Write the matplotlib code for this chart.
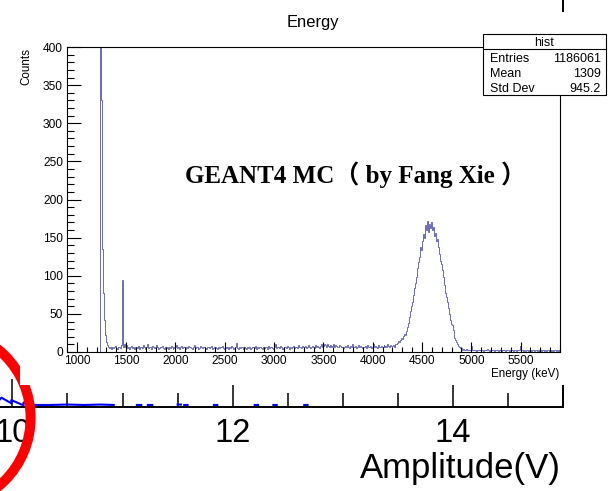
import numpy as np
import matplotlib.pyplot as plt
from matplotlib.patches import Rectangle, Ellipse
from matplotlib.lines import Line2D
from matplotlib.ticker import MultipleLocator

plt.rcParams['font.family'] = ['Liberation Sans', 'DejaVu Sans']

# energy histogram, 10 keV bins starting at 900 keV (one row = 200 keV)
e_start = 900
e_width = 10
counts = [
    0, 0, 0, 0, 0, 0, 0, 0, 0, 0, 0, 0, 0, 0, 0, 0, 0, 0, 0, 0,                       # 900
    0, 0, 0, 0, 0, 0, 0, 0, 0, 0, 0, 0, 0, 2500, 330, 215, 135, 78, 42, 22,           # 1100
    13, 9, 7, 5, 6, 4, 7, 5, 6, 8, 5, 4, 6, 7, 5, 9, 95, 6, 11, 7,                    # 1300
    9, 5, 7, 4, 6, 8, 5, 6, 4, 7, 6, 5, 8, 4, 6, 7, 5, 9, 6, 4,                       # 1500
    6, 10, 5, 7, 6, 4, 8, 6, 5, 7, 9, 6, 4, 5, 7, 6, 8, 5, 4, 6,                      # 1700
    5, 7, 4, 6, 5, 8, 6, 4, 5, 7, 6, 9, 5, 6, 4, 7, 8, 5, 6, 7,                       # 1900
    4, 6, 5, 8, 6, 7, 5, 4, 6, 9, 5, 6, 7, 4, 5, 8, 6, 5, 7, 6,                       # 2100
    5, 4, 7, 6, 5, 6, 8, 4, 5, 6, 7, 5, 4, 6, 5, 7, 6, 8, 5, 4,                       # 2300
    6, 5, 7, 4, 6, 5, 8, 6, 4, 5, 6, 12, 5, 4, 6, 5, 7, 6, 5, 4,                      # 2500
    6, 5, 4, 7, 5, 6, 4, 5, 7, 6, 5, 8, 4, 6, 5, 7, 6, 5, 4, 6,                       # 2700
    5, 7, 6, 4, 8, 5, 6, 7, 5, 4, 6, 10, 5, 7, 6, 5, 8, 6, 4, 5,                      # 2900
    7, 6, 5, 8, 6, 4, 7, 5, 6, 8, 5, 7, 6, 5, 9, 6, 7, 5, 8, 6,                       # 3100
    6, 8, 5, 7, 9, 6, 5, 7, 8, 6, 7, 5, 9, 6, 8, 7, 5, 8, 10, 7,                      # 3300
    8, 11, 9, 7, 10, 8, 7, 9, 6, 8, 10, 7, 9, 8, 6, 7, 9, 8, 6, 7,                    # 3500
    5, 7, 8, 6, 9, 7, 5, 8, 6, 10, 7, 6, 8, 5, 7, 9, 6, 8, 7, 5,                      # 3700
    7, 6, 8, 5, 9, 7, 6, 8, 5, 7, 10, 6, 8, 7, 5, 9, 7, 6, 8, 7,                      # 3900
    6, 9, 7, 8, 6, 10, 8, 7, 9, 8, 8, 9, 7, 10, 11, 12, 14, 13, 16, 18,               # 4100
    17, 21, 24, 22, 28, 33, 38, 46, 54, 60, 66, 75, 84, 90, 98, 110, 118, 125, 138, 134,        # 4300
    146, 155, 150, 166, 160, 172, 158, 168, 162, 170, 160, 164, 152, 156, 145, 148, 138, 128, 120, 115,  # 4500
    108, 98, 88, 78, 72, 66, 58, 50, 42, 37, 36, 29, 24, 19, 16, 13, 10, 8, 7, 5,     # 4700
    5, 3, 4, 2, 3, 4, 2, 3, 2, 3, 8, 3, 2, 3, 2, 1, 3, 2, 3, 2,                       # 4900
    2, 3, 1, 2, 3, 2, 4, 2, 1, 3, 2, 2, 3, 1, 2, 3, 2, 1, 2, 3,                       # 5100
    1, 2, 3, 2, 1, 2, 2, 3, 1, 2, 3, 2, 1, 2, 2, 1, 3, 2, 2, 8,                       # 5300
    2, 2, 1, 2, 3, 1, 2, 2, 1, 3, 2, 1, 2, 2, 1, 2, 3, 1, 2, 1,                       # 5500
    2, 1, 2, 3, 1, 2, 1, 2, 2, 1, 3, 1, 2, 1, 2, 2, 1, 2, 1, 2,                       # 5700
]

stat_names = ['Entries', 'Mean', 'Std Dev']
stat_values = ['1186061', '1309', '945.2']

# amplitude trace of the plot lying underneath (nan = gap)
nan = np.nan
amp_x = [9.887, 9.90, 9.99, 9.99, 10.10, 10.10, 10.20, 10.35, 10.50, 10.65, 10.80, 10.92,
         nan, 11.13, 11.17, nan, 11.23, 11.27, nan, 11.50, 11.53, nan, 11.56, 11.59,
         nan, 11.83, 11.86, nan, 12.20, 12.23, nan, 12.37, 12.40, nan, 12.65, 12.68]
amp_y = [1.9, 2.3, 0.9, 1.7, 0.4, 1.1, 0.5, 0.5, 0.6, 0.5, 0.6, 0.5,
         nan, 0.5, 0.5, nan, 0.5, 0.5, nan, 0.6, 0.6, nan, 0.5, 0.5,
         nan, 0.5, 0.5, nan, 0.5, 0.5, nan, 0.5, 0.5, nan, 0.5, 0.5]
amp_ticks = [10, 12, 14]

W, H = 616, 491


def fx(px):
    return px / W


def fy(py):
    return 1 - py / H


fig = plt.figure(figsize=(W / 100, H / 100), dpi=100)

# --- underlying amplitude plot ---
ax2 = fig.add_axes([0, fy(407), fx(563), 1 - fy(407)])
ax2.set_zorder(0)
ax2.plot(amp_x, amp_y, color='#0000ff', lw=1.5)
ax2.set_xlim(9.887, 15)
ax2.set_ylim(0, 100)
ax2.spines['top'].set_visible(False)
ax2.spines['left'].set_visible(False)
ax2.spines['bottom'].set_linewidth(1.4)
ax2.spines['right'].set_linewidth(1.4)
ax2.set_xticks(amp_ticks)
ax2.xaxis.set_minor_locator(MultipleLocator(0.5))
ax2.tick_params(axis='x', which='major', direction='in', length=20, width=1.1, labelsize=23.5, pad=8)
ax2.tick_params(axis='x', which='minor', direction='in', length=10, width=1.1)
ax2.set_yticks([])
fig.text(fx(561), fy(478), 'Amplitude(V)', ha='right', va='baseline', fontsize=25)

# red ring drawn on the screenshot
fig.add_artist(Ellipse((fx(-58), fy(418)), 2 * 88.6 / W, 2 * 88.6 / H, transform=fig.transFigure,
                       fill=False, edgecolor='#ff0000', lw=7.2, zorder=0.5))

# white backdrop of the pasted ROOT canvas
fig.add_artist(Rectangle((fx(20), fy(385)), fx(616) - fx(20), fy(12) - fy(385),
                         transform=fig.transFigure, facecolor='white', edgecolor='none', zorder=1))

# --- ROOT energy histogram ---
ax = fig.add_axes([fx(67), fy(352), fx(560) - fx(67), fy(47) - fy(352)])
ax.set_zorder(2)
edges = e_start + e_width * np.arange(len(counts) + 1)
ax.stairs(counts, edges, color='#5256ad', lw=0.6)
ax.set_xlim(900, 5900)
ax.set_ylim(0, 400)
ax.xaxis.set_major_locator(MultipleLocator(500))
ax.xaxis.set_minor_locator(MultipleLocator(100))
ax.yaxis.set_major_locator(MultipleLocator(50))
ax.yaxis.set_minor_locator(MultipleLocator(10))
ax.tick_params(which='both', direction='in', top=False, right=False, width=0.8, labelsize=8.6)
ax.tick_params(axis='x', which='major', length=7.2, pad=2)
ax.tick_params(axis='x', which='minor', length=3.6)
ax.tick_params(axis='y', which='major', length=10, pad=3)
ax.tick_params(axis='y', which='minor', length=5)
for s in ax.spines.values():
    s.set_linewidth(0.8)

fig.text(fx(312.5), fy(27.5), 'Energy', ha='center', va='baseline', fontsize=11.9)
fig.text(fx(26), fy(48), 'Counts', rotation=90, ha='center', va='top', fontsize=8.4)
fig.text(fx(559), fy(377), 'Energy (keV)', ha='right', va='baseline', fontsize=8.4)
fig.text(fx(185), fy(183), 'GEANT4 MC（ by Fang Xie ）', ha='left', va='baseline', fontsize=18,
         family=['Liberation Serif', 'Noto Sans CJK SC'], weight='bold', zorder=3)

# stats box
fig.add_artist(Rectangle((fx(483), fy(95)), fx(606) - fx(483), fy(34) - fy(95), transform=fig.transFigure,
                         facecolor='white', edgecolor='black', lw=0.8, zorder=3))
fig.add_artist(Line2D([fx(483), fx(606)], [fy(49), fy(49)], transform=fig.transFigure,
                      color='black', lw=0.8, zorder=3.1))
fig.text(fx(544.5), fy(46.5), 'hist', ha='center', va='baseline', fontsize=9, zorder=3.2)
for i, (name, val) in enumerate(zip(stat_names, stat_values)):
    base = 62 + 15 * i
    fig.text(fx(490), fy(base), name, ha='left', va='baseline', fontsize=9, zorder=3.2)
    fig.text(fx(601), fy(base), val, ha='right', va='baseline', fontsize=9, zorder=3.2)

fig.savefig('out.png', dpi=100)
